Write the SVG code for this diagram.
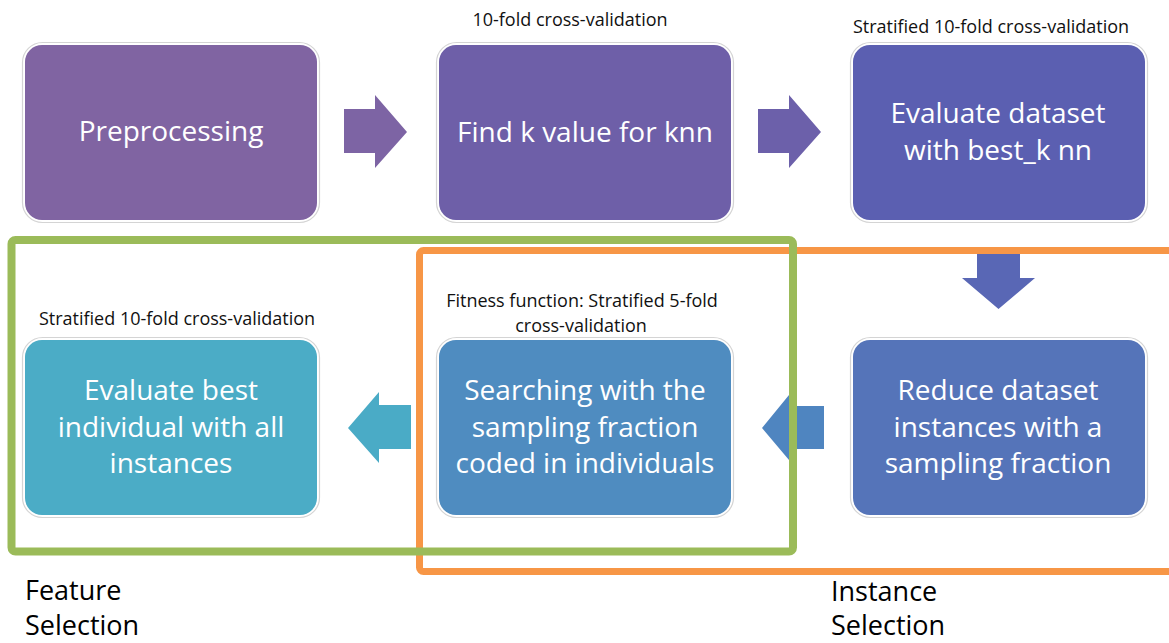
<svg xmlns="http://www.w3.org/2000/svg" width="1169" height="643" viewBox="0 0 1169 643">
  <style>
    .frame { fill: #ffffff; stroke: #d4d4d4; stroke-width: 1.2; }
    .label { font-family: "Open Sans", "Liberation Sans", sans-serif; font-size: 28px; fill: #ffffff; text-anchor: middle; }
    .note { font-family: "Open Sans", "Liberation Sans", sans-serif; font-size: 18px; fill: #111111; text-anchor: middle; }
    .group-title { font-family: "Open Sans", "Liberation Sans", sans-serif; font-size: 27px; fill: #000000; }
  </style>

  <rect width="1169" height="643" fill="#ffffff"/>

  <!-- process steps -->
  <g id="preprocessing">
    <rect class="frame" x="22.5" y="42.5" width="297" height="180" rx="20"/>
    <rect x="25" y="45" width="292" height="175" rx="17" fill="#8064A2"/>
    <text class="label" x="171" y="141">Preprocessing</text>
  </g>

  <g id="find-k">
    <text class="note" x="570" y="26">10-fold cross-validation</text>
    <rect class="frame" x="436.5" y="42.5" width="297" height="180" rx="20"/>
    <rect x="439" y="45" width="292" height="175" rx="17" fill="#6E5FA8"/>
    <text class="label" x="585" y="142">Find k value for knn</text>
  </g>

  <g id="evaluate-dataset">
    <text class="note" x="991" y="33">Stratified 10-fold cross-validation</text>
    <rect class="frame" x="850.5" y="42.5" width="297" height="180" rx="20"/>
    <rect x="853" y="45" width="292" height="175" rx="17" fill="#5B5FB1"/>
    <text class="label" x="998" y="123">Evaluate dataset</text>
    <text class="label" x="998" y="160">with best_k nn</text>
  </g>

  <g id="reduce-dataset">
    <rect class="frame" x="850.5" y="337.5" width="297" height="180" rx="20"/>
    <rect x="853" y="340" width="292" height="175" rx="17" fill="#5574B9"/>
    <text class="label" x="998" y="400">Reduce dataset</text>
    <text class="label" x="998" y="437">instances with a</text>
    <text class="label" x="998" y="473">sampling fraction</text>
  </g>

  <g id="searching">
    <text class="note" x="582" y="307">Fitness function: Stratified 5-fold</text>
    <text class="note" x="581" y="332">cross-validation</text>
    <rect class="frame" x="436.5" y="337.5" width="297" height="180" rx="20"/>
    <rect x="439" y="340" width="292" height="175" rx="17" fill="#4F8CC0"/>
    <text class="label" x="585" y="400">Searching with the</text>
    <text class="label" x="585" y="437">sampling fraction</text>
    <text class="label" x="585" y="473">coded in individuals</text>
  </g>

  <g id="evaluate-best">
    <text class="note" x="177" y="325">Stratified 10-fold cross-validation</text>
    <rect class="frame" x="22.5" y="337.5" width="297" height="180" rx="20"/>
    <rect x="25" y="340" width="292" height="175" rx="17" fill="#4BACC6"/>
    <text class="label" x="171" y="400">Evaluate best</text>
    <text class="label" x="171" y="437">individual with all</text>
    <text class="label" x="171" y="473">instances</text>
  </g>

  <!-- block arrows between steps -->
  <g id="connectors">
    <polygon points="344,109 375,109 375,95 407,132 375,168 375,153 344,153" fill="#7D64A4"/>
    <polygon points="758,109 789,109 789,95 821,132 789,168 789,153 758,153" fill="#6C60AA"/>
    <polygon points="977,253 1020,253 1020,278 1035,278 998.5,309 962,278 977,278" fill="#5967B5"/>
    <polygon points="824,406 789,406 789,395 762,428 789,460 789,449 824,449" fill="#4F85C0"/>
    <polygon points="411,405 379,405 379,392 348,428 379,463 379,449 411,449" fill="#4AABC6"/>
  </g>

  <!-- grouping outlines -->
  <g id="instance-selection">
    <rect x="419.5" y="250.5" width="780" height="321" rx="4" fill="none" stroke="#F79646" stroke-width="7"/>
    <text class="group-title" x="831" y="601">Instance</text>
    <text class="group-title" x="831" y="635">Selection</text>
  </g>

  <g id="feature-selection">
    <rect x="11.5" y="240" width="781.5" height="311.5" rx="4" fill="none" stroke="#9BBB59" stroke-width="8"/>
    <text class="group-title" x="25" y="600">Feature</text>
    <text class="group-title" x="25" y="635">Selection</text>
  </g>
</svg>
